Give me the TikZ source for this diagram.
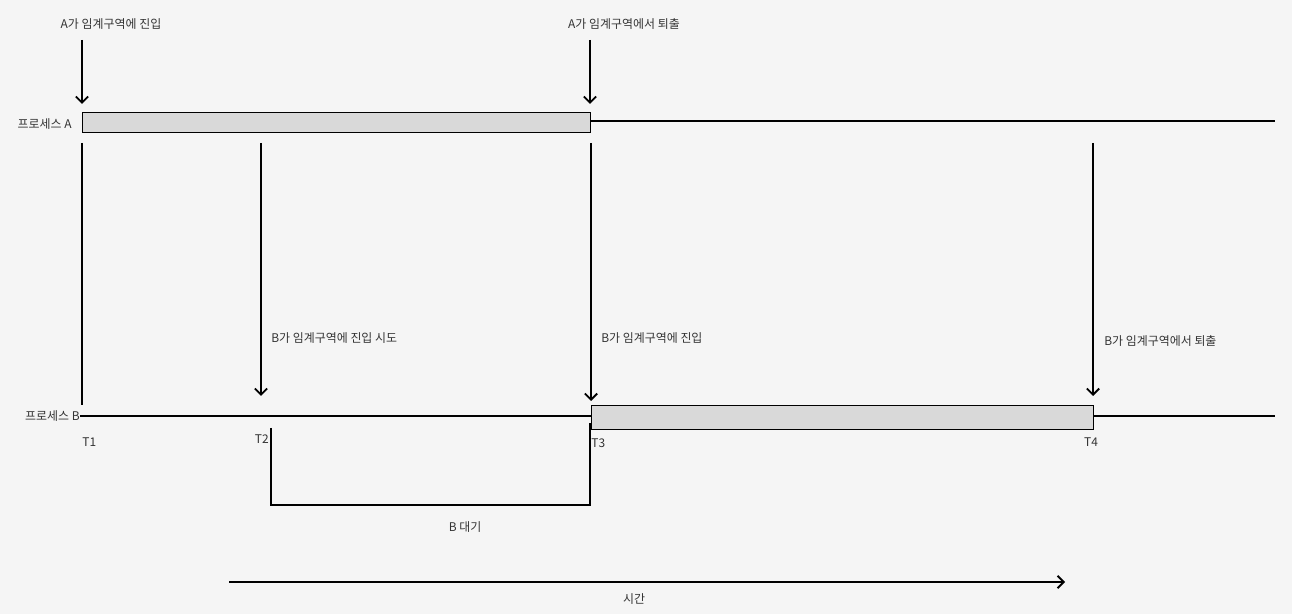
\documentclass[tikz,border=0pt]{standalone}
\usepackage{fontspec}
\setmainfont{Noto Sans CJK KR}
\usetikzlibrary{arrows.meta}
\definecolor{bg}{HTML}{F5F5F5}
\definecolor{bar}{HTML}{D9D9D9}
\definecolor{ink}{HTML}{333333}

\begin{document}
\begin{tikzpicture}[x=0.02cm,y=-0.02cm,
        lbl/.style={font=\fontsize{6.8}{8}\selectfont, text=ink, inner sep=0pt},
        ev/.style={line width=1.1pt, -{Straight Barb[length=3.5pt,width=7pt,line width=1.1pt]}},
        tl/.style={line width=1.1pt},
        crit/.style={draw, fill=bar, line width=0.5pt}]
        \fill[bg] (0,0) rectangle (1292,614);
        \useasboundingbox (0,0) rectangle (1292,614);
        % process A
        \node[lbl, anchor=east] (pA) at (72,124) {프로세스 A};
        \coordinate (a0) at (82,112);
        \coordinate (a1) at (590,132);
        \coordinate (a2) at (1275,121);
        \draw[tl] (a1 |- a2) -- (a2);
        \draw[crit] (a0) rectangle (a1);
        % process B
        \node[lbl, anchor=east] (pB) at (80,416) {프로세스 B};
        \coordinate (b0) at (591,405);
        \coordinate (b1) at (1093,429);
        \coordinate (b2) at (1275,416);
        \draw[tl] (pB.east) -- (b0 |- b2);
        \draw[tl] (b1 |- b2) -- (b2);
        \draw[crit] (b0) rectangle (b1);
        % events of A
        \node[lbl] (eA1) at (111,24) {A가 임계구역에 진입};
        \node[lbl] (eA2) at (624,24) {A가 임계구역에서 퇴출};
        \draw[ev] (82,40) -- (82,104);
        \draw[ev] (590,40) -- (590,104);
        \draw[tl] (82,143) -- (82,405);
        % events of B
        \node[lbl, anchor=west] (eB1) at (271,338) {B가 임계구역에 진입 시도};
        \node[lbl, anchor=west] (eB2) at (601,338) {B가 임계구역에 진입};
        \node[lbl, anchor=west] (eB3) at (1104,341) {B가 임계구역에서 퇴출};
        \draw[ev] (261,143) -- (261,396);
        \draw[ev] (591,143) -- (591,401);
        \draw[ev] (1093,143) -- (1093,396);
        % times
        \node[lbl, anchor=west] (t1) at (82,442) {T1};
        \node[lbl, anchor=east] (t2) at (269,439) {T2};
        \node[lbl, anchor=west] (t3) at (591,443) {T3};
        \node[lbl] (t4) at (1091,442) {T4};
        % waiting of B
        \draw[tl] (271,428) -- (271,505) -- (590,505) -- (590,423);
        \node[lbl] (wB) at (465,527) {B 대기};
        % time axis
        \coordinate (s0) at (229,582);
        \coordinate (s1) at (1065,582);
        \draw[ev] (s0) -- (s1);
        \node[lbl] (tm) at (634,599) {시간};
\end{tikzpicture}
\end{document}
